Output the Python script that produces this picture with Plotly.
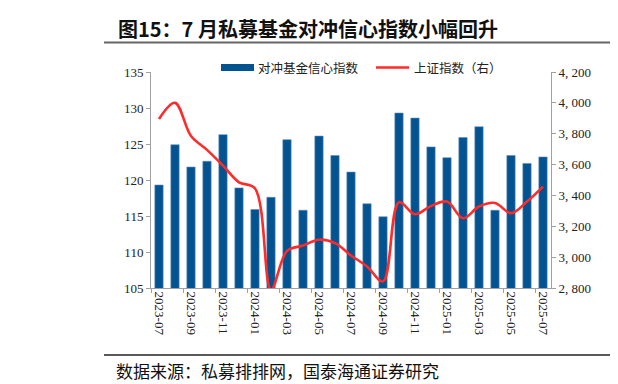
import plotly.graph_objects as go

months = ["2023-07", "2023-08", "2023-09", "2023-10", "2023-11", "2023-12",
          "2024-01", "2024-02", "2024-03", "2024-04", "2024-05", "2024-06",
          "2024-07", "2024-08", "2024-09", "2024-10", "2024-11", "2024-12",
          "2025-01", "2025-02", "2025-03", "2025-04", "2025-05", "2025-06",
          "2025-07"]
confidence = [119.3, 124.9, 121.8, 122.6, 126.3, 118.9, 115.9, 117.6, 125.6, 115.8,
              126.1, 123.4, 121.1, 116.7, 114.9, 129.3, 128.6, 124.6, 123.1, 125.9,
              127.4, 115.8, 123.4, 122.3, 123.2]
sse = [3895, 4000, 3785, 3695, 3593, 3485, 3445, 2789, 3040, 3075,
       3113, 3091, 3011, 2940, 2843, 3356, 3278, 3332, 3360, 3252,
       3328, 3351, 3285, 3360, 3457]
left_ticks = [105, 110, 115, 120, 125, 130, 135]
right_ticks = [2800, 3000, 3200, 3400, 3600, 3800, 4000, 4200]
right_ticktext = ["2, 800", "3, 000", "3, 200", "3, 400", "3, 600", "3, 800", "4, 000", "4, 200"]

BLUE = "#02538F"
RED = "#FF2A2A"
SERIF = "Liberation Serif, Times New Roman, serif"
CJK = "Noto Sans CJK SC"

W, H = 618, 384
L, R, T, B = 143, 75, 64, 104
PW, PH = W - L - R, H - T - B


def px(x):
    return (x - L) / PW


def py(y):
    return (H - B - y) / PH


fig = go.Figure()
fig.add_trace(go.Bar(
    x=months, y=confidence, name="对冲基金信心指数",
    marker=dict(color=BLUE, line=dict(color="#5E8FBF", width=0.6)),
    width=0.52, showlegend=False))
fig.add_trace(go.Scatter(
    x=months, y=sse, name="上证指数（右）", yaxis="y2", mode="lines",
    line=dict(color=RED, width=2.6, shape="spline", smoothing=1.0),
    showlegend=False))

fig.update_layout(
    width=W, height=H,
    margin=dict(l=L, r=R, t=T, b=B),
    paper_bgcolor="white", plot_bgcolor="white",
    bargap=0.48,
    xaxis=dict(type="category", tickmode="linear", tick0=0, dtick=2,
               tickson="boundaries", ticks="outside", ticklen=4,
               tickcolor="#A0A0A0", tickangle=90, showline=True,
               linecolor="#A0A0A0", linewidth=1, showgrid=False,
               tickfont=dict(family=SERIF, size=13, color="#222")),
    yaxis=dict(range=[105, 135], tickvals=left_ticks, ticks="outside",
               ticklen=4, tickcolor="#A0A0A0", showline=True,
               linecolor="#A0A0A0", linewidth=1, showgrid=False,
               zeroline=False,
               tickfont=dict(family=SERIF, size=13, color="#222")),
    yaxis2=dict(range=[2800, 4200], tickvals=right_ticks,
                ticktext=right_ticktext, overlaying="y", side="right",
                ticks="outside", ticklen=4, tickcolor="#A0A0A0",
                showline=True, linecolor="#A0A0A0", linewidth=1,
                showgrid=False, zeroline=False,
                tickfont=dict(family=SERIF, size=13, color="#222")),
)

shapes = [
    # title underline
    dict(type="line", xref="paper", yref="paper", x0=px(96), x1=px(640),
         y0=py(34.5), y1=py(34.5), line=dict(color="#666666", width=2)),
    # source line
    dict(type="line", xref="paper", yref="paper", x0=px(96), x1=px(640),
         y0=py(347), y1=py(347), line=dict(color="#222222", width=1.5)),
    # legend swatches
    dict(type="rect", xref="paper", yref="paper", x0=px(213), x1=px(246),
         y0=py(63), y1=py(56), fillcolor=BLUE, line=dict(width=0)),
    dict(type="line", xref="paper", yref="paper", x0=px(368), x1=px(401),
         y0=py(59.5), y1=py(59.5), line=dict(color=RED, width=2.6)),
]
fig.update_layout(shapes=shapes)

annotations = [
    dict(text="<b>图15：7 月私募基金对冲信心指数小幅回升</b>", x=px(108), y=py(20.5),
         xref="paper", yref="paper", xanchor="left", yanchor="middle",
         showarrow=False, font=dict(family=CJK, size=20, color="#111")),
    dict(text="数据来源：私募排排网，国泰海通证券研究", x=px(106), y=py(362),
         xref="paper", yref="paper", xanchor="left", yanchor="middle",
         showarrow=False, font=dict(family=CJK, size=17, color="#111")),
    dict(text="对冲基金信心指数", x=px(248), y=py(59.5),
         xref="paper", yref="paper", xanchor="left", yanchor="middle",
         showarrow=False, font=dict(family=CJK, size=12.5, color="#222")),
    dict(text="上证指数（右）", x=px(404), y=py(59.5),
         xref="paper", yref="paper", xanchor="left", yanchor="middle",
         showarrow=False, font=dict(family=CJK, size=12.5, color="#222")),
]
fig.update_layout(annotations=annotations)

fig.write_html("out.html")
